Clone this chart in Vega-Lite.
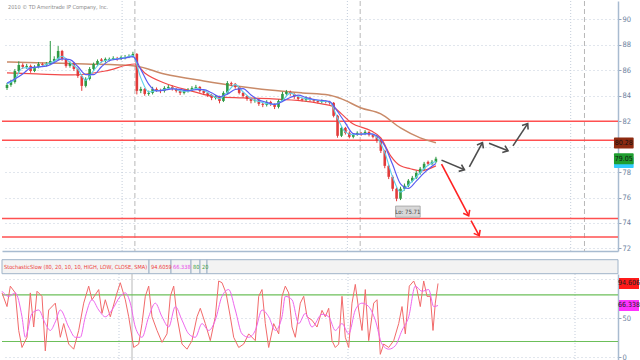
{
  "$schema": "https://vega.github.io/schema/vega-lite/v6.json",
  "padding": 0,
  "spacing": 0,
  "bounds": "flush",
  "resolve": {"scale": {"color": "independent"}},
  "config": {"view": {"stroke": null}, "axis": {"labelFont": "DejaVu Sans Condensed, Liberation Sans, sans-serif"}},
  "datasets": {
    "px": [
      {"x":0,"o":84.6,"h":85.0,"l":84.45,"c":84.85},{"x":4,"o":84.85,"h":85.25,"l":84.7,"c":85.08},{"x":8,"o":85.08,"h":86.1,"l":84.95,"c":85.94},{"x":12,"o":85.94,"h":86.7,"l":85.8,"c":86.42},
      {"x":16,"o":86.42,"h":86.55,"l":86.1,"c":86.26},{"x":20,"o":86.26,"h":86.5,"l":86.1,"c":86.34},{"x":24,"o":86.34,"h":86.45,"l":85.8,"c":85.94},{"x":28,"o":85.94,"h":86.4,"l":85.85,"c":86.26},
      {"x":32,"o":86.26,"h":86.65,"l":86.15,"c":86.49},{"x":36,"o":86.49,"h":86.6,"l":86.25,"c":86.42},{"x":40,"o":86.42,"h":86.65,"l":86.3,"c":86.49},{"x":44,"o":86.49,"h":88.3,"l":86.4,"c":86.73},
      {"x":48,"o":86.73,"h":87.1,"l":86.6,"c":86.89},{"x":52,"o":86.89,"h":87.9,"l":86.8,"c":87.51},{"x":56,"o":87.51,"h":87.6,"l":86.75,"c":86.89},{"x":60,"o":86.89,"h":86.95,"l":86.2,"c":86.34},
      {"x":64,"o":86.34,"h":86.7,"l":86.2,"c":86.57},{"x":68,"o":86.57,"h":86.65,"l":85.95,"c":86.1},{"x":72,"o":86.1,"h":86.2,"l":85.4,"c":85.55},{"x":76,"o":85.55,"h":85.65,"l":84.38,"c":84.77},
      {"x":80,"o":84.77,"h":85.45,"l":84.65,"c":85.32},{"x":84,"o":85.32,"h":86.25,"l":85.2,"c":86.1},{"x":88,"o":86.1,"h":86.6,"l":85.95,"c":86.49},{"x":92,"o":86.49,"h":86.85,"l":86.35,"c":86.73},
      {"x":96,"o":86.85,"h":86.95,"l":86.6,"c":86.73},{"x":100,"o":86.73,"h":87.0,"l":86.6,"c":86.89},{"x":104,"o":86.8,"h":87.0,"l":86.7,"c":86.89},{"x":108,"o":86.89,"h":87.1,"l":86.8,"c":86.96},
      {"x":112,"o":86.96,"h":87.05,"l":86.75,"c":86.89},{"x":116,"o":86.89,"h":87.15,"l":86.8,"c":87.04},{"x":120,"o":86.95,"h":87.2,"l":86.85,"c":87.04},{"x":124,"o":87.04,"h":87.25,"l":86.95,"c":87.12},
      {"x":128,"o":87.12,"h":87.45,"l":87.0,"c":87.28},{"x":132,"o":87.28,"h":87.35,"l":84.1,"c":84.38},{"x":136,"o":84.38,"h":84.7,"l":84.2,"c":84.53},{"x":140,"o":84.53,"h":84.6,"l":84.0,"c":84.14},
      {"x":144,"o":84.14,"h":84.4,"l":84.0,"c":84.22},{"x":148,"o":84.22,"h":84.7,"l":84.1,"c":84.53},{"x":152,"o":84.53,"h":84.65,"l":84.3,"c":84.45},{"x":156,"o":84.45,"h":84.55,"l":84.2,"c":84.38},
      {"x":160,"o":84.38,"h":84.75,"l":84.25,"c":84.61},{"x":164,"o":84.61,"h":84.85,"l":84.5,"c":84.69},{"x":168,"o":84.69,"h":84.8,"l":84.4,"c":84.53},{"x":172,"o":84.53,"h":84.6,"l":84.25,"c":84.38},
      {"x":176,"o":84.38,"h":84.45,"l":84.05,"c":84.22},{"x":180,"o":84.22,"h":84.5,"l":84.1,"c":84.38},{"x":184,"o":84.38,"h":84.6,"l":84.25,"c":84.45},{"x":188,"o":84.45,"h":84.75,"l":84.35,"c":84.61},
      {"x":192,"o":84.61,"h":84.85,"l":84.5,"c":84.69},{"x":196,"o":84.69,"h":84.75,"l":84.25,"c":84.38},{"x":200,"o":84.38,"h":84.45,"l":84.05,"c":84.22},{"x":204,"o":84.22,"h":84.3,"l":83.9,"c":84.06},
      {"x":208,"o":84.06,"h":84.15,"l":83.65,"c":83.83},{"x":212,"o":83.83,"h":84.05,"l":83.7,"c":83.91},{"x":216,"o":83.91,"h":84.0,"l":83.4,"c":83.59},{"x":220,"o":83.59,"h":84.35,"l":83.5,"c":84.22},
      {"x":224,"o":84.22,"h":85.15,"l":84.1,"c":85.0},{"x":228,"o":85.0,"h":85.1,"l":84.75,"c":84.93},{"x":232,"o":84.93,"h":85.0,"l":84.55,"c":84.69},{"x":236,"o":84.69,"h":84.75,"l":84.1,"c":84.22},
      {"x":240,"o":84.22,"h":84.3,"l":83.85,"c":83.98},{"x":244,"o":83.98,"h":84.05,"l":83.6,"c":83.75},{"x":248,"o":83.75,"h":83.85,"l":83.4,"c":83.59},{"x":252,"o":83.59,"h":83.8,"l":83.45,"c":83.67},
      {"x":256,"o":83.67,"h":83.75,"l":83.2,"c":83.36},{"x":260,"o":83.36,"h":83.45,"l":83.1,"c":83.28},{"x":264,"o":83.28,"h":83.65,"l":83.15,"c":83.51},{"x":268,"o":83.51,"h":83.6,"l":83.2,"c":83.36},
      {"x":272,"o":83.36,"h":83.4,"l":82.95,"c":83.12},{"x":276,"o":83.12,"h":83.7,"l":83.0,"c":83.59},{"x":280,"o":83.59,"h":84.3,"l":83.5,"c":84.14},{"x":284,"o":84.14,"h":84.45,"l":84.0,"c":84.3},
      {"x":288,"o":84.3,"h":84.4,"l":84.0,"c":84.14},{"x":292,"o":84.14,"h":84.2,"l":83.75,"c":83.91},{"x":296,"o":83.91,"h":84.0,"l":83.6,"c":83.75},{"x":300,"o":83.75,"h":83.85,"l":83.55,"c":83.67},
      {"x":304,"o":83.67,"h":83.95,"l":83.55,"c":83.83},{"x":308,"o":83.83,"h":83.9,"l":83.55,"c":83.67},{"x":312,"o":83.67,"h":83.75,"l":83.45,"c":83.59},{"x":316,"o":83.59,"h":83.65,"l":83.4,"c":83.51},
      {"x":320,"o":83.51,"h":83.7,"l":83.4,"c":83.59},{"x":324,"o":83.59,"h":83.65,"l":83.4,"c":83.51},{"x":328,"o":83.51,"h":83.6,"l":83.3,"c":83.44},{"x":332,"o":83.44,"h":83.5,"l":82.3,"c":82.42},
      {"x":336,"o":82.42,"h":82.5,"l":80.7,"c":80.85},{"x":340,"o":80.85,"h":81.6,"l":80.75,"c":81.47},{"x":344,"o":81.47,"h":81.55,"l":80.95,"c":81.08},{"x":348,"o":81.08,"h":81.2,"l":80.65,"c":80.77},
      {"x":352,"o":80.77,"h":81.05,"l":80.65,"c":80.93},{"x":356,"o":80.93,"h":81.2,"l":80.85,"c":81.08},{"x":360,"o":81.08,"h":81.15,"l":80.85,"c":81.0},{"x":364,"o":81.0,"h":81.3,"l":80.9,"c":81.16},
      {"x":368,"o":81.16,"h":81.2,"l":80.8,"c":80.93},{"x":372,"o":80.93,"h":81.0,"l":80.65,"c":80.77},{"x":376,"o":80.77,"h":80.85,"l":80.3,"c":80.46},{"x":380,"o":80.46,"h":80.55,"l":79.5,"c":79.67},
      {"x":384,"o":79.67,"h":79.75,"l":78.3,"c":78.49},{"x":388,"o":78.49,"h":78.6,"l":77.45,"c":77.63},{"x":392,"o":77.63,"h":77.75,"l":76.5,"c":76.69},{"x":396,"o":76.69,"h":76.8,"l":75.71,"c":75.91},
      {"x":400,"o":75.91,"h":76.85,"l":75.8,"c":76.69},{"x":404,"o":76.69,"h":77.1,"l":76.55,"c":76.93},{"x":408,"o":76.93,"h":77.45,"l":76.8,"c":77.32},{"x":412,"o":77.32,"h":77.7,"l":77.2,"c":77.55},
      {"x":416,"o":77.55,"h":78.1,"l":77.45,"c":77.94},{"x":420,"o":77.94,"h":78.4,"l":77.8,"c":78.26},{"x":424,"o":78.26,"h":78.8,"l":78.15,"c":78.65},{"x":428,"o":78.8,"h":78.9,"l":78.5,"c":78.65},
      {"x":432,"o":78.65,"h":78.95,"l":78.55,"c":78.81},{"x":436,"o":78.81,"h":79.2,"l":78.7,"c":79.05}
    ],
    "fast": [
      {"x":0,"b":85.0,"cy":84.92},{"x":8,"b":85.32,"cy":85.29},{"x":16,"b":85.71,"cy":86.2},{"x":24,"b":86.18,"cy":86.18},{"x":32,"b":86.26,"cy":86.23},{"x":40,"b":86.32,"cy":86.47},
      {"x":48,"b":86.6,"cy":86.71},{"x":56,"b":86.9,"cy":87.1},{"x":64,"b":86.84,"cy":86.6},{"x":72,"b":86.29,"cy":86.08},{"x":80,"b":85.66,"cy":85.22},{"x":88,"b":85.65,"cy":85.97},
      {"x":96,"b":86.27,"cy":86.65},{"x":104,"b":86.75,"cy":86.83},{"x":112,"b":86.87,"cy":86.91},{"x":120,"b":86.96,"cy":86.99},{"x":128,"b":87.07,"cy":87.15},{"x":136,"b":86.07,"cy":85.4},
      {"x":144,"b":84.91,"cy":84.3},{"x":152,"b":84.38,"cy":84.4},{"x":160,"b":84.44,"cy":84.48},{"x":168,"b":84.53,"cy":84.61},{"x":176,"b":84.49,"cy":84.38},{"x":184,"b":84.39,"cy":84.35},
      {"x":192,"b":84.47,"cy":84.59},{"x":200,"b":84.47,"cy":84.43},{"x":208,"b":84.23,"cy":84.04},{"x":216,"b":83.92,"cy":83.77},{"x":224,"b":84.11,"cy":84.28},{"x":232,"b":84.49,"cy":84.87},
      {"x":240,"b":84.56,"cy":84.3},{"x":248,"b":84.05,"cy":83.77},{"x":256,"b":83.67,"cy":83.54},{"x":264,"b":83.48,"cy":83.38},{"x":272,"b":83.32,"cy":83.33},{"x":280,"b":83.55,"cy":83.62},
      {"x":288,"b":83.86,"cy":84.2},{"x":296,"b":84.05,"cy":83.93},{"x":304,"b":83.86,"cy":83.75},{"x":312,"b":83.7,"cy":83.69},{"x":320,"b":83.64,"cy":83.57},{"x":328,"b":83.53,"cy":83.51},
      {"x":336,"b":82.76,"cy":82.23},{"x":344,"b":81.85,"cy":81.14},{"x":352,"b":81.02,"cy":80.93},{"x":360,"b":80.97,"cy":81.0},{"x":368,"b":81.02,"cy":81.03},{"x":376,"b":80.86,"cy":80.71},
      {"x":384,"b":80.06,"cy":79.54},{"x":392,"b":78.59,"cy":77.61},{"x":400,"b":77.08,"cy":76.43},{"x":408,"b":76.71,"cy":76.98},{"x":416,"b":77.29,"cy":77.61},{"x":424,"b":77.94,"cy":78.28},
      {"x":432,"b":78.46,"cy":78.71},{"x":436,"b":78.68,"cy":78.83}
    ],
    "redma": [
      {"x":0,"v":85.79},{"x":30,"v":85.71},{"x":67,"v":85.63},{"x":100,"v":85.94},{"x":130,"v":86.49},{"x":140,"v":85.79},{"x":160,"v":85.0},{"x":187,"v":84.38},{"x":213,"v":83.91},
      {"x":240,"v":83.83},{"x":270,"v":83.75},{"x":300,"v":83.59},{"x":320,"v":83.36},{"x":330,"v":83.2},{"x":340,"v":82.57},{"x":350,"v":81.87},{"x":370,"v":81.24},{"x":380,"v":80.69},
      {"x":390,"v":79.28},{"x":400,"v":78.49},{"x":410,"v":78.26},{"x":420,"v":78.1},{"x":436,"v":78.49}
    ],
    "brownma": [
      {"x":0,"v":86.65},{"x":40,"v":86.57},{"x":80,"v":86.49},{"x":130,"v":86.34},{"x":160,"v":85.71},{"x":200,"v":85.16},{"x":233,"v":84.77},{"x":267,"v":84.45},{"x":300,"v":84.22},
      {"x":327,"v":84.06},{"x":340,"v":83.75},{"x":360,"v":83.04},{"x":380,"v":82.57},{"x":400,"v":81.47},{"x":420,"v":80.69},{"x":436,"v":80.3}
    ],
    "hlines": [{"v":82.0},{"v":80.5},{"v":74.35},{"v":72.9}],
    "vdot": [{"x":117},{"x":346},{"x":573}],
    "vdash": [{"x":130},{"x":359},{"x":587}],
    "vdashLo": [{"x":130}],
    "grayarrows": [
      {"x":441.7,"y":78.94,"x2":465,"y2":78.18},{"x":470,"y":78.41,"x2":483.3,"y2":80.32},
      {"x":490,"y":80.27,"x2":509.3,"y2":79.67},{"x":514.3,"y":80.06,"x2":529.3,"y2":81.81}
    ],
    "redarrows": [
      {"x":441.7,"y":78.63,"x2":469.3,"y2":74.57},{"x":471.7,"y":74.18,"x2":480,"y2":73.0}
    ],
    "lowmark": [{"x":395,"x2":420,"xc":407.5,"top":75.33,"bot":74.45,"mid":74.89,"t":"Lo: 75.71"}],
    "credit": [{"x":1,"v":91.0,"t":"2010 © TD Ameritrade IP Company, Inc."}],
    "tagsUp": [{"v":80.28,"t":"80.28","k":"slow"},{"v":78.75,"t":"","k":"cyan"},{"v":79.05,"t":"79.05","k":"price"}],
    "tagsLo": [{"v":94.6,"t":"94.606","k":"K"},{"v":66.3,"t":"66.338","k":"D"}],
    "cells": [
      {"x":0,"x2":147,"t":"StochasticSlow (80, 20, 10, 10, HIGH, LOW, CLOSE, SMA)","k":"title"},
      {"x":147,"x2":169,"t":"94.6059","k":"K"},
      {"x":169,"x2":189,"t":"66.338","k":"D"},
      {"x":189,"x2":198,"t":"80","k":"ob"},
      {"x":198,"x2":205,"t":"20","k":"os"},
      {"x":205,"x2":616,"t":"","k":"blank"}
    ],
    "stochK": [
      {"x":0,"v":82.5},{"x":5,"v":64.9},{"x":8.3,"v":91.2},{"x":13.3,"v":82.5},{"x":16.7,"v":34.2},{"x":20,"v":12.3},{"x":25,"v":25.4},{"x":28.3,"v":82.5},{"x":31.7,"v":38.6},
      {"x":35,"v":84.6},{"x":40,"v":78.1},{"x":43.3,"v":7.9},{"x":46.7,"v":60.5},{"x":53.3,"v":69.3},{"x":58.3,"v":25.4},{"x":61.7,"v":43.0},{"x":66.7,"v":16.7},{"x":71.7,"v":10.1},
      {"x":76.7,"v":34.2},{"x":81.7,"v":69.3},{"x":86.7,"v":91.2},{"x":90,"v":73.7},{"x":96.7,"v":86.8},{"x":100,"v":56.1},{"x":103.3,"v":73.7},{"x":108.3,"v":51.8},{"x":115,"v":82.5},
      {"x":118.3,"v":95.6},{"x":123.3,"v":73.7},{"x":126.7,"v":51.8},{"x":131.7,"v":12.3},{"x":136.7,"v":16.7},{"x":140,"v":43.0},{"x":143.3,"v":78.1},{"x":146.7,"v":91.2},{"x":150,"v":51.8},
      {"x":155,"v":34.2},{"x":160,"v":18.9},{"x":165,"v":29.8},{"x":168.3,"v":78.1},{"x":171.7,"v":91.2},{"x":175,"v":51.8},{"x":180,"v":16.7},{"x":185,"v":10.1},{"x":190,"v":21.1},
      {"x":195,"v":51.8},{"x":198.3,"v":62.7},{"x":203.3,"v":43.0},{"x":208.3,"v":21.1},{"x":213.3,"v":51.8},{"x":216.7,"v":97.8},{"x":220,"v":95.6},{"x":224,"v":82.5},{"x":228.3,"v":51.8},
      {"x":231.7,"v":25.4},{"x":236.7,"v":12.3},{"x":241.7,"v":16.7},{"x":246.7,"v":29.8},{"x":253.3,"v":21.1},{"x":256.7,"v":78.1},{"x":260,"v":86.8},{"x":263.3,"v":43.0},{"x":266.7,"v":12.3},
      {"x":271.7,"v":43.0},{"x":276.7,"v":29.8},{"x":280,"v":78.1},{"x":283.3,"v":91.2},{"x":286.7,"v":82.5},{"x":290,"v":38.6},{"x":293.3,"v":25.4},{"x":298.3,"v":69.3},{"x":301.7,"v":78.1},
      {"x":305,"v":51.8},{"x":310,"v":47.4},{"x":315,"v":38.6},{"x":320,"v":60},{"x":323.3,"v":51.8},{"x":326.7,"v":62.7},{"x":330,"v":21.1},{"x":333.3,"v":12.3},{"x":336.7,"v":16.7},
      {"x":340,"v":78.1},{"x":343.3,"v":25.4},{"x":346.7,"v":12.3},{"x":350,"v":69.3},{"x":353.3,"v":93.4},{"x":356.7,"v":60.5},{"x":360,"v":34.2},{"x":363.3,"v":86.8},{"x":366.7,"v":21.1},
      {"x":371.7,"v":69.3},{"x":375,"v":73.7},{"x":378.3,"v":3.5},{"x":381.7,"v":16.7},{"x":386.7,"v":12.3},{"x":391.7,"v":21.1},{"x":396.7,"v":43.0},{"x":400,"v":64.9},{"x":403.3,"v":29.8},
      {"x":407.3,"v":91.2},{"x":411.7,"v":97.8},{"x":415,"v":86.8},{"x":418.3,"v":64.9},{"x":421.7,"v":97.8},{"x":425,"v":78.1},{"x":428.3,"v":78.1},{"x":431,"v":34.2},{"x":433.3,"v":69.3},
      {"x":436,"v":94.6}
    ],
    "stochD": [
      {"x":0,"v":84.6},{"x":6.7,"v":78.1},{"x":13.3,"v":82.5},{"x":20,"v":51.8},{"x":23.3,"v":25.4},{"x":30,"v":56.1},{"x":36.7,"v":60.5},{"x":43.3,"v":43.0},{"x":48.3,"v":34.2},
      {"x":53.3,"v":45.2},{"x":58.3,"v":60.5},{"x":66.7,"v":38.6},{"x":73.3,"v":25.4},{"x":78.3,"v":25.4},{"x":83.3,"v":51.8},{"x":90,"v":73.7},{"x":96.7,"v":60.5},{"x":103.3,"v":51.8},
      {"x":110,"v":60.5},{"x":118.3,"v":78.1},{"x":123.3,"v":82.5},{"x":128.3,"v":69.3},{"x":133.3,"v":38.6},{"x":140,"v":25.4},{"x":146.7,"v":51.8},{"x":153.3,"v":69.3},{"x":160,"v":51.8},
      {"x":166.7,"v":38.6},{"x":173.3,"v":64.9},{"x":180,"v":47.4},{"x":186.7,"v":29.8},{"x":193.3,"v":25.4},{"x":200,"v":43.0},{"x":206.7,"v":34.2},{"x":213.3,"v":47.4},{"x":220,"v":78.1},
      {"x":226.7,"v":86.8},{"x":233.3,"v":60.5},{"x":240,"v":29.8},{"x":246.7,"v":25.4},{"x":253.3,"v":34.2},{"x":260,"v":60.5},{"x":266.7,"v":51.8},{"x":273.3,"v":34.2},{"x":280,"v":51.8},
      {"x":283.3,"v":78.1},{"x":290,"v":73.7},{"x":296.7,"v":43.0},{"x":303.3,"v":56.1},{"x":310,"v":38.6},{"x":320,"v":55},{"x":326.7,"v":51.8},{"x":333.3,"v":34.2},{"x":340,"v":43.0},
      {"x":346.7,"v":29.8},{"x":353.3,"v":60.5},{"x":360,"v":69.3},{"x":366.7,"v":64.9},{"x":373.3,"v":47.4},{"x":380,"v":16.7},{"x":386.7,"v":10.1},{"x":393.3,"v":14.5},{"x":400,"v":34.2},
      {"x":406.7,"v":51.8},{"x":413.3,"v":91.2},{"x":420,"v":84.6},{"x":426.7,"v":86.8},{"x":431.7,"v":64.9},{"x":436,"v":66.3}
    ],
    "levels": [{"v":80},{"v":20}]
  },
  "vconcat": [
    {
      "width": 616,
      "height": 250,
      "resolve": {"axis": {"x": "independent", "y": "independent"}},
      "layer": [
        {
          "data": {"name": "vdot"},
          "mark": {"type": "rule", "color": "#c3cddb", "strokeDash": [1, 2], "strokeWidth": 1},
          "encoding": {
            "x": {"field": "x", "type": "quantitative", "scale": {"domain": [0, 616], "nice": false, "zero": false},
                  "axis": {"orient": "bottom", "labels": false, "ticks": false, "grid": false, "title": null, "domainColor": "#a8bbd0", "domainWidth": 1.5}}
          }
        },
        {
          "data": {"name": "vdash"},
          "mark": {"type": "rule", "color": "#b8b8b8", "strokeDash": [5, 3], "strokeWidth": 1},
          "encoding": {"x": {"field": "x", "type": "quantitative", "scale": {"domain": [0, 616], "nice": false, "zero": false}, "axis": null}}
        },
        {
          "data": {"name": "hlines"},
          "mark": {"type": "rule", "color": "#ff5050", "strokeWidth": 1.5},
          "encoding": {
            "y": {"field": "v", "type": "quantitative", "scale": {"domain": [71.8, 91.44], "nice": false, "zero": false},
                  "axis": {"orient": "right", "values": [72,74,76,78,80,82,84,86,88,90], "labelExpr": "datum.value == 80 ? '' : datum.label", "title": null, "grid": true, "gridColor": "#c3cddb", "gridDash": [1, 3],
                           "domainColor": "#a8bbd0", "domainWidth": 1.5, "tickColor": "#8da2bd", "tickSize": 3, "labelFontSize": 7.5, "labelColor": "#6b7f9e", "labelPadding": 1}}
          }
        },
        {
          "data": {"name": "brownma"},
          "mark": {"type": "line", "color": "#c98a68", "strokeWidth": 1.5, "interpolate": "monotone"},
          "encoding": {
            "x": {"field": "x", "type": "quantitative", "scale": {"domain": [0, 616], "nice": false, "zero": false}, "axis": null},
            "y": {"field": "v", "type": "quantitative", "scale": {"domain": [71.8, 91.44], "nice": false, "zero": false}, "axis": null}
          }
        },
        {
          "data": {"name": "redma"},
          "mark": {"type": "line", "color": "#f24a4a", "strokeWidth": 1.2, "interpolate": "monotone"},
          "encoding": {
            "x": {"field": "x", "type": "quantitative", "scale": {"domain": [0, 616], "nice": false, "zero": false}, "axis": null},
            "y": {"field": "v", "type": "quantitative", "scale": {"domain": [71.8, 91.44], "nice": false, "zero": false}, "axis": null}
          }
        },
        {
          "data": {"name": "px"},
          "mark": {"type": "rule", "strokeWidth": 1},
          "encoding": {
            "x": {"field": "x", "type": "quantitative", "scale": {"domain": [0, 616], "nice": false, "zero": false}, "axis": null},
            "y": {"field": "l", "type": "quantitative", "scale": {"domain": [71.8, 91.44], "nice": false, "zero": false}, "axis": null},
            "y2": {"field": "h"},
            "color": {"condition": {"test": "datum.c >= datum.o", "value": "#2f9a45"}, "value": "#e23b3b"}
          }
        },
        {
          "data": {"name": "px"},
          "mark": {"type": "bar", "width": 2.6},
          "encoding": {
            "x": {"field": "x", "type": "quantitative", "scale": {"domain": [0, 616], "nice": false, "zero": false}, "axis": null},
            "y": {"field": "o", "type": "quantitative", "scale": {"domain": [71.8, 91.44], "nice": false, "zero": false}, "axis": null},
            "y2": {"field": "c"},
            "color": {"condition": {"test": "datum.c >= datum.o", "value": "#2f9a45"}, "value": "#e23b3b"}
          }
        },
        {
          "data": {"name": "fast"},
          "mark": {"type": "line", "color": "#5fd0ea", "strokeWidth": 1.1, "interpolate": "monotone"},
          "encoding": {
            "x": {"field": "x", "type": "quantitative", "scale": {"domain": [0, 616], "nice": false, "zero": false}, "axis": null},
            "y": {"field": "cy", "type": "quantitative", "scale": {"domain": [71.8, 91.44], "nice": false, "zero": false}, "axis": null}
          }
        },
        {
          "data": {"name": "fast"},
          "mark": {"type": "line", "color": "#5a5cf2", "strokeWidth": 1.2, "interpolate": "monotone"},
          "encoding": {
            "x": {"field": "x", "type": "quantitative", "scale": {"domain": [0, 616], "nice": false, "zero": false}, "axis": null},
            "y": {"field": "b", "type": "quantitative", "scale": {"domain": [71.8, 91.44], "nice": false, "zero": false}, "axis": null}
          }
        },
        {
          "data": {"name": "grayarrows"},
          "mark": {"type": "rule", "color": "#4d4d4d", "strokeWidth": 1.6},
          "encoding": {
            "x": {"field": "x", "type": "quantitative", "scale": {"domain": [0, 616], "nice": false, "zero": false}, "axis": null},
            "y": {"field": "y", "type": "quantitative", "scale": {"domain": [71.8, 91.44], "nice": false, "zero": false}, "axis": null},
            "x2": {"field": "x2"}, "y2": {"field": "y2"}
          }
        },
        {
          "data": {"name": "grayarrows"},
          "transform": [{"calculate": "atan2(datum.x2 - datum.x, (datum.y2 - datum.y) * 12.73) * 180 / PI", "as": "ang"}],
          "mark": {"type": "point", "shape": "M-0.7,0.9L0,0L0.7,0.9", "filled": false, "color": "#4d4d4d", "strokeWidth": 1.6, "size": 110, "opacity": 1},
          "encoding": {
            "x": {"field": "x2", "type": "quantitative", "scale": {"domain": [0, 616], "nice": false, "zero": false}, "axis": null},
            "y": {"field": "y2", "type": "quantitative", "scale": {"domain": [71.8, 91.44], "nice": false, "zero": false}, "axis": null},
            "angle": {"field": "ang", "type": "quantitative", "scale": null}
          }
        },
        {
          "data": {"name": "redarrows"},
          "mark": {"type": "rule", "color": "#ff2222", "strokeWidth": 1.6},
          "encoding": {
            "x": {"field": "x", "type": "quantitative", "scale": {"domain": [0, 616], "nice": false, "zero": false}, "axis": null},
            "y": {"field": "y", "type": "quantitative", "scale": {"domain": [71.8, 91.44], "nice": false, "zero": false}, "axis": null},
            "x2": {"field": "x2"}, "y2": {"field": "y2"}
          }
        },
        {
          "data": {"name": "redarrows"},
          "transform": [{"calculate": "atan2(datum.x2 - datum.x, (datum.y2 - datum.y) * 12.73) * 180 / PI", "as": "ang"}],
          "mark": {"type": "point", "shape": "M-0.7,0.9L0,0L0.7,0.9", "filled": false, "color": "#ff2222", "strokeWidth": 1.6, "size": 110, "opacity": 1},
          "encoding": {
            "x": {"field": "x2", "type": "quantitative", "scale": {"domain": [0, 616], "nice": false, "zero": false}, "axis": null},
            "y": {"field": "y2", "type": "quantitative", "scale": {"domain": [71.8, 91.44], "nice": false, "zero": false}, "axis": null},
            "angle": {"field": "ang", "type": "quantitative", "scale": null}
          }
        },
        {
          "data": {"name": "lowmark"},
          "mark": {"type": "rect", "fill": "#d8d8d8", "stroke": "#a0a0a0", "strokeWidth": 0.8},
          "encoding": {
            "x": {"field": "x", "type": "quantitative", "scale": {"domain": [0, 616], "nice": false, "zero": false}, "axis": null},
            "x2": {"field": "x2"},
            "y": {"field": "top", "type": "quantitative", "scale": {"domain": [71.8, 91.44], "nice": false, "zero": false}, "axis": null},
            "y2": {"field": "bot"}
          }
        },
        {
          "data": {"name": "lowmark"},
          "mark": {"type": "text", "font": "DejaVu Sans Condensed, Liberation Sans, sans-serif", "fontSize": 6, "color": "#444444", "align": "center", "baseline": "middle"},
          "encoding": {
            "x": {"field": "xc", "type": "quantitative", "scale": {"domain": [0, 616], "nice": false, "zero": false}, "axis": null},
            "y": {"field": "mid", "type": "quantitative", "scale": {"domain": [71.8, 91.44], "nice": false, "zero": false}, "axis": null},
            "text": {"field": "t"}
          }
        },
        {
          "data": {"name": "credit"},
          "mark": {"type": "text", "font": "DejaVu Sans Condensed, Liberation Sans, sans-serif", "fontSize": 5.5, "color": "#8a8a8a", "align": "left", "baseline": "middle"},
          "encoding": {
            "x": {"field": "x", "type": "quantitative", "scale": {"domain": [0, 616], "nice": false, "zero": false}, "axis": null},
            "y": {"field": "v", "type": "quantitative", "scale": {"domain": [71.8, 91.44], "nice": false, "zero": false}, "axis": null},
            "text": {"field": "t"}
          }
        },
        {
          "data": {"name": "tagsUp"},
          "mark": {"type": "rect", "clip": false, "cornerRadius": 1, "yOffset": -5.5, "y2Offset": 5.5},
          "encoding": {
            "x": {"datum": 617, "type": "quantitative", "scale": {"domain": [0, 616], "nice": false, "zero": false}, "axis": null},
            "x2": {"datum": 637},
            "y": {"field": "v", "type": "quantitative", "scale": {"domain": [71.8, 91.44], "nice": false, "zero": false}, "axis": null},
            "y2": {"field": "v"},
            "color": {"field": "k", "type": "nominal", "scale": {"domain": ["slow", "cyan", "price"], "range": ["#8e2a10", "#33ccff", "#1f9e2f"]}, "legend": null}
          }
        },
        {
          "data": {"name": "tagsUp"},
          "mark": {"type": "text", "font": "DejaVu Sans Condensed, Liberation Sans, sans-serif", "fontSize": 7, "color": "#111111", "align": "center", "baseline": "middle", "clip": false},
          "encoding": {
            "x": {"datum": 627, "type": "quantitative", "scale": {"domain": [0, 616], "nice": false, "zero": false}, "axis": null},
            "y": {"field": "v", "type": "quantitative", "scale": {"domain": [71.8, 91.44], "nice": false, "zero": false}, "axis": null},
            "text": {"field": "t"}
          }
        }
      ]
    },
    {
      "width": 616,
      "height": 23,
      "layer": [
        {
          "data": {"name": "cells"},
          "mark": {"type": "rect", "fill": "#f3f3f3", "stroke": "#9fb3c8", "strokeWidth": 1},
          "encoding": {
            "x": {"field": "x", "type": "quantitative", "scale": {"domain": [0, 616], "nice": false, "zero": false}, "axis": null},
            "x2": {"field": "x2"},
            "y": {"datum": 0.3, "type": "quantitative", "scale": {"domain": [0, 23], "nice": false, "zero": false}, "axis": null},
            "y2": {"datum": 14.3}
          }
        },
        {
          "data": {"name": "cells"},
          "mark": {"type": "text", "font": "DejaVu Sans Condensed, Liberation Sans, sans-serif", "fontSize": 5.6, "align": "left", "baseline": "middle", "dx": 2},
          "encoding": {
            "x": {"field": "x", "type": "quantitative", "scale": {"domain": [0, 616], "nice": false, "zero": false}, "axis": null},
            "y": {"datum": 7.3, "type": "quantitative", "scale": {"domain": [0, 23], "nice": false, "zero": false}, "axis": null},
            "text": {"field": "t"},
            "color": {"field": "k", "type": "nominal", "scale": {"domain": ["title", "K", "D", "ob", "os", "blank"], "range": ["#ee3b3b", "#ee3b3b", "#e83ee8", "#3a9a3a", "#3a9a3a", "#000000"]}, "legend": null}
          }
        }
      ]
    },
    {
      "width": 616,
      "height": 87,
      "resolve": {"axis": {"x": "independent", "y": "independent"}},
      "layer": [
        {
          "data": {"name": "vdot"},
          "mark": {"type": "rule", "color": "#c3cddb", "strokeDash": [1, 2], "strokeWidth": 1},
          "encoding": {"x": {"field": "x", "type": "quantitative", "scale": {"domain": [0, 616], "nice": false, "zero": false}, "axis": null}}
        },
        {
          "data": {"name": "vdashLo"},
          "mark": {"type": "rule", "color": "#b8b8b8", "strokeWidth": 1},
          "encoding": {"x": {"field": "x", "type": "quantitative", "scale": {"domain": [0, 616], "nice": false, "zero": false}, "axis": null}}
        },
        {
          "data": {"name": "levels"},
          "mark": {"type": "rule", "color": "#6cbf5a", "strokeWidth": 1.2},
          "encoding": {
            "y": {"field": "v", "type": "quantitative", "scale": {"domain": [-5.1, 106.8], "nice": false, "zero": false},
                  "axis": {"orient": "right", "values": [0, 50, 100], "labelExpr": "datum.value == 100 ? '' : datum.label", "title": null, "grid": true, "gridColor": "#c3cddb", "gridDash": [1, 3],
                           "domainColor": "#a8bbd0", "domainWidth": 1.5, "tickColor": "#8da2bd", "tickSize": 3, "labelFontSize": 7.5, "labelColor": "#6b7f9e", "labelPadding": 1}}
          }
        },
        {
          "data": {"name": "stochK"},
          "mark": {"type": "line", "color": "#f26a6a", "strokeWidth": 1},
          "encoding": {
            "x": {"field": "x", "type": "quantitative", "scale": {"domain": [0, 616], "nice": false, "zero": false}, "axis": null},
            "y": {"field": "v", "type": "quantitative", "scale": {"domain": [-5.1, 106.8], "nice": false, "zero": false}, "axis": null}
          }
        },
        {
          "data": {"name": "stochD"},
          "mark": {"type": "line", "color": "#ee66ee", "strokeWidth": 1, "interpolate": "monotone"},
          "encoding": {
            "x": {"field": "x", "type": "quantitative", "scale": {"domain": [0, 616], "nice": false, "zero": false}, "axis": null},
            "y": {"field": "v", "type": "quantitative", "scale": {"domain": [-5.1, 106.8], "nice": false, "zero": false}, "axis": null}
          }
        },
        {
          "data": {"name": "tagsLo"},
          "mark": {"type": "rect", "clip": false, "yOffset": -5.5, "y2Offset": 5.5},
          "encoding": {
            "x": {"datum": 617, "type": "quantitative", "scale": {"domain": [0, 616], "nice": false, "zero": false}, "axis": null},
            "x2": {"datum": 637},
            "y": {"field": "v", "type": "quantitative", "scale": {"domain": [-5.1, 106.8], "nice": false, "zero": false}, "axis": null},
            "y2": {"field": "v"},
            "color": {"field": "k", "type": "nominal", "scale": {"domain": ["K", "D"], "range": ["#ff1a1a", "#ff33ff"]}, "legend": null}
          }
        },
        {
          "data": {"name": "tagsLo"},
          "mark": {"type": "text", "font": "DejaVu Sans Condensed, Liberation Sans, sans-serif", "fontSize": 7, "color": "#222222", "align": "center", "baseline": "middle", "clip": false},
          "encoding": {
            "x": {"datum": 627, "type": "quantitative", "scale": {"domain": [0, 616], "nice": false, "zero": false}, "axis": null},
            "y": {"field": "v", "type": "quantitative", "scale": {"domain": [-5.1, 106.8], "nice": false, "zero": false}, "axis": null},
            "text": {"field": "t"}
          }
        }
      ]
    }
  ]
}
